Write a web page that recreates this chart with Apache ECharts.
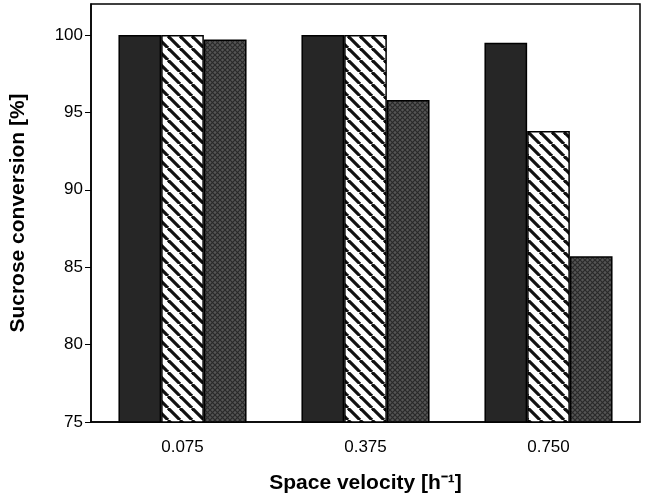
<!DOCTYPE html>
<html>
<head><meta charset="utf-8">
<script src="https://cdn.jsdelivr.net/npm/echarts@6/dist/echarts.min.js"></script>
</head>
<body style="margin:0">
<div id="c" style="width:657px;height:499px"></div>
<script>
const categories = ['0.075', '0.375', '0.750'];
const solidVals = [100, 100, 99.5];
const stripeVals = [100, 100, 93.8];
const hatchVals = [99.7, 95.8, 85.7];

function stripes() {
  const c = document.createElement('canvas'); c.width = 12; c.height = 12;
  const g = c.getContext('2d');
  g.fillStyle = '#fff'; g.fillRect(0, 0, 12, 12);
  g.strokeStyle = '#111'; g.lineWidth = 3.2;
  for (let k = -12; k <= 24; k += 12) { g.beginPath(); g.moveTo(k, 0); g.lineTo(k + 12, 12); g.stroke(); }
  return c;
}
function hatch() {
  const c = document.createElement('canvas'); c.width = 5; c.height = 5;
  const g = c.getContext('2d');
  g.fillStyle = '#555'; g.fillRect(0, 0, 5, 5);
  g.strokeStyle = '#2a2a2a'; g.lineWidth = 1.2;
  g.beginPath(); g.moveTo(0, 0); g.lineTo(5, 5); g.moveTo(5, 0); g.lineTo(0, 5); g.stroke();
  return c;
}
const border = { borderColor: '#000', borderWidth: 1.5 };
const chart = echarts.init(document.getElementById('c'));
chart.setOption({
  animation: false,
  grid: { left: 88, right: 17, top: 4, bottom: 74, show: true, borderColor: '#000', borderWidth: 1.5 },
  xAxis: {
    type: 'category', data: categories,
    name: 'Space velocity [h⁻¹]', nameLocation: 'middle', nameGap: 51,
    nameTextStyle: { fontFamily: 'Liberation Sans', fontWeight: 'bold', fontSize: 21, color: '#000' },
    axisLine: { lineStyle: { color: '#000', width: 1.5 } },
    axisTick: { show: false },
    axisLabel: { fontFamily: 'Liberation Sans', fontSize: 17, color: '#000', margin: 17 }
  },
  yAxis: {
    type: 'value', min: 75, max: 102, interval: 5,
    name: 'Sucrose conversion [%]', nameLocation: 'middle', nameGap: 62,
    nameTextStyle: { fontFamily: 'Liberation Sans', fontWeight: 'bold', fontSize: 21, color: '#000' },
    axisLine: { show: true, lineStyle: { color: '#000', width: 1.5 } },
    axisTick: { show: true, inside: false, length: 6, lineStyle: { color: '#000' } },
    splitLine: { show: false },
    axisLabel: { fontFamily: 'Liberation Sans', fontSize: 17, color: '#000', showMaxLabel: false }
  },
  series: [
    { type: 'bar', data: solidVals, barGap: '0%', barCategoryGap: '30%', itemStyle: Object.assign({ color: '#262626' }, border) },
    { type: 'bar', data: stripeVals, itemStyle: Object.assign({ color: { image: stripes(), repeat: 'repeat' } }, border) },
    { type: 'bar', data: hatchVals, itemStyle: Object.assign({ color: { image: hatch(), repeat: 'repeat' } }, border) }
  ]
});
</script>
</body>
</html>
